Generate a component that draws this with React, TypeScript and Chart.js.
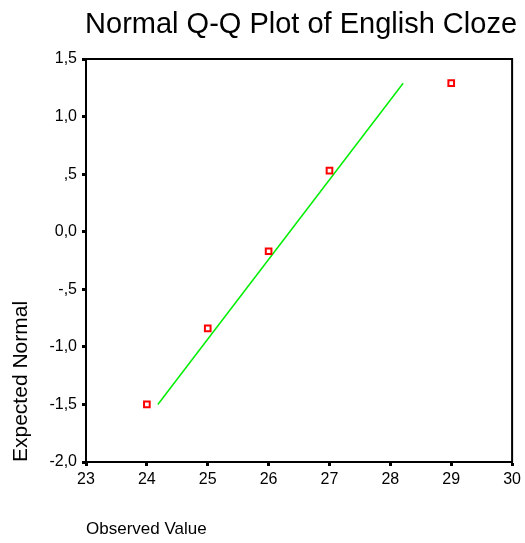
import React, { useEffect, useRef } from "react";
import { Chart, registerables } from "chart.js";

Chart.register(...registerables);

const chartTitle = "Normal Q-Q Plot of English Cloze";
const xAxisTitle = "Observed Value";
const yAxisTitle = "Expected Normal";

const observedValues = [24, 25, 26, 27, 29];
const expectedNormal = [-1.5, -0.84, -0.17, 0.53, 1.29];

const lineX = [24.18, 28.21];
const lineY = [-1.5, 1.29];

const xTickValues = [23, 24, 25, 26, 27, 28, 29, 30];
const xTickLabels = ["23", "24", "25", "26", "27", "28", "29", "30"];
const yTickValues = [-2, -1.5, -1, -0.5, 0, 0.5, 1, 1.5];
const yTickLabels = ["-2,0", "-1,5", "-1,0", "-,5", "0,0", ",5", "1,0", "1,5"];

const FONT = '"Liberation Sans", Arial, sans-serif';

export default function App() {
  const ref = useRef<HTMLCanvasElement | null>(null);

  useEffect(() => {
    document.body.style.margin = "0";
    const canvas = ref.current;
    if (!canvas) return;

    const framePlugin = {
      id: "frameAndTitle",
      afterDraw(chart: any) {
        const { ctx, chartArea } = chart;
        ctx.save();
        ctx.strokeStyle = "#000";
        ctx.lineWidth = 2;
        ctx.beginPath();
        ctx.moveTo(chartArea.left, chartArea.top);
        ctx.lineTo(chartArea.right, chartArea.top);
        ctx.lineTo(chartArea.right, chartArea.bottom);
        ctx.stroke();
        ctx.fillStyle = "#000";
        ctx.font = `29px ${FONT}`;
        ctx.textAlign = "center";
        ctx.textBaseline = "alphabetic";
        ctx.fillText(chartTitle, (chartArea.left + chartArea.right) / 2 + 2, 33);
        ctx.restore();
      },
    };

    const chart = new Chart(canvas, {
      type: "scatter",
      data: {
        datasets: [
          {
            type: "scatter",
            label: "Observed",
            data: observedValues.map((x, i) => ({ x, y: expectedNormal[i] })),
            pointStyle: "rect",
            pointRadius: 4,
            pointBorderWidth: 2,
            pointBorderColor: "#ff0000",
            pointBackgroundColor: "#ffffff",
            order: 0,
          },
          {
            type: "line",
            label: "Fit",
            data: lineX.map((x, i) => ({ x, y: lineY[i] })),
            borderColor: "#00ee00",
            borderWidth: 1.5,
            pointRadius: 0,
            fill: false,
            order: 1,
          } as any,
        ],
      },
      options: {
        responsive: false,
        animation: false,
        layout: { padding: { top: 59, right: 12, left: 0, bottom: 0 } },
        plugins: {
          legend: { display: false },
          tooltip: { enabled: false },
          title: { display: false },
        },
        scales: {
          x: {
            type: "linear",
            min: 23,
            max: 30,
            afterBuildTicks: (scale: any) => {
              scale.ticks = xTickValues.map((v) => ({ value: v }));
            },
            afterFit: (scale: any) => {
              scale.height = 81;
            },
            ticks: {
              autoSkip: false,
              maxRotation: 0,
              padding: 4,
              color: "#000",
              font: { family: FONT, size: 16 },
              callback: (v: any) => {
                const i = xTickValues.indexOf(Number(v));
                return i >= 0 ? xTickLabels[i] : "";
              },
            },
            grid: {
              drawOnChartArea: false,
              drawTicks: true,
              tickLength: 4,
              tickWidth: 3,
              tickColor: "#000",
            },
            border: { display: true, color: "#000", width: 2 },
            title: {
              display: true,
              text: xAxisTitle,
              align: "start",
              color: "#000",
              font: { family: FONT, size: 17 },
              padding: { top: 0, bottom: 3 },
            },
          },
          y: {
            type: "linear",
            min: -2,
            max: 1.5,
            afterBuildTicks: (scale: any) => {
              scale.ticks = yTickValues.map((v) => ({ value: v }));
            },
            afterFit: (scale: any) => {
              scale.width = 86;
            },
            ticks: {
              autoSkip: false,
              padding: 5,
              color: "#000",
              font: { family: FONT, size: 16 },
              callback: (v: any) => {
                const i = yTickValues.findIndex((t) => Math.abs(t - Number(v)) < 1e-9);
                return i >= 0 ? yTickLabels[i] : "";
              },
            },
            grid: {
              drawOnChartArea: false,
              drawTicks: true,
              tickLength: 4,
              tickWidth: 3,
              tickColor: "#000",
            },
            border: { display: true, color: "#000", width: 2 },
            title: {
              display: true,
              text: yAxisTitle,
              align: "start",
              color: "#000",
              font: { family: FONT, size: 21 },
              padding: { top: 9, bottom: 0 },
            },
          },
        },
      },
      plugins: [framePlugin],
    });

    return () => chart.destroy();
  }, []);

  return (
    <div style={{ width: 525, height: 543, background: "#fff" }}>
      <canvas ref={ref} width={525} height={543} />
    </div>
  );
}
